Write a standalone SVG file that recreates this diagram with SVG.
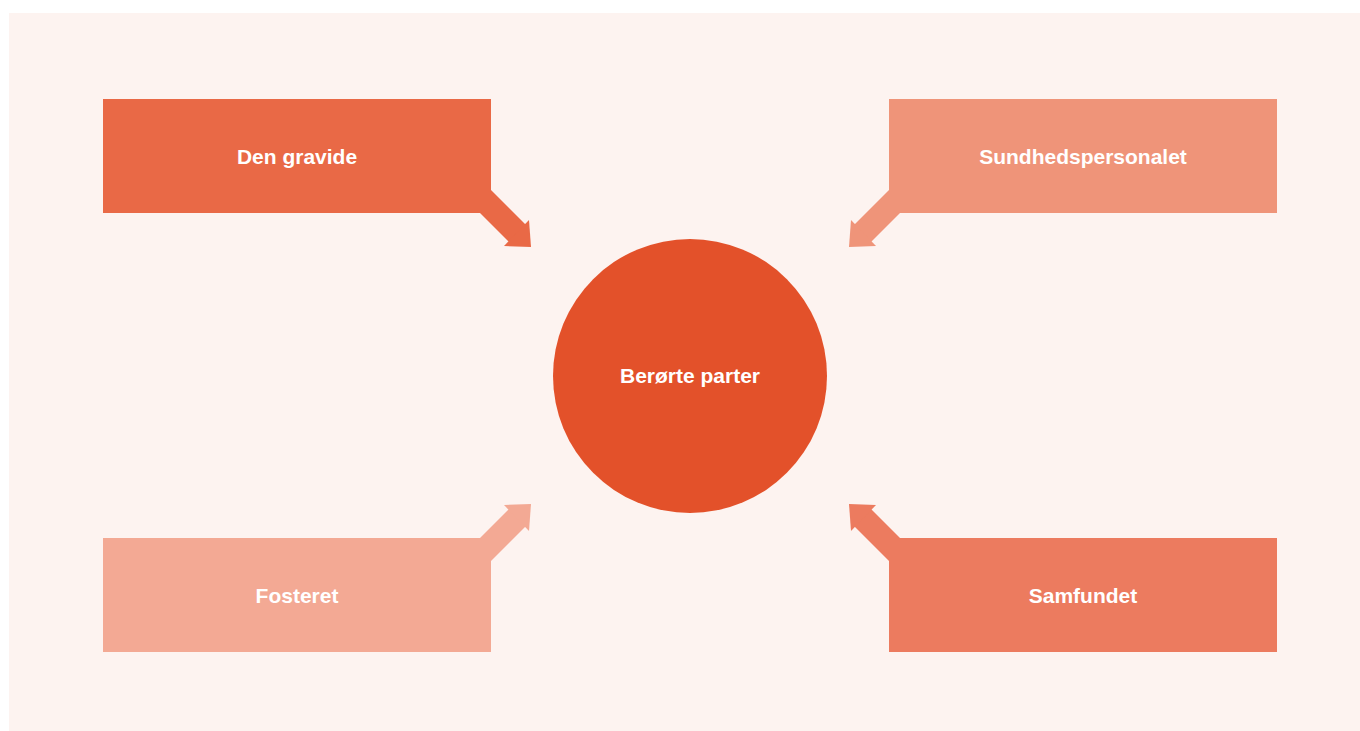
<svg xmlns="http://www.w3.org/2000/svg" width="1360" height="731" viewBox="0 0 1360 731">
<style>
text{font-family:"Liberation Sans",Arial,sans-serif;font-weight:bold;font-size:21px;fill:#fff;text-anchor:middle}
.shaft{stroke-width:24;fill:none}
</style>
<rect x="0" y="0" width="1360" height="731" fill="#fff"/>
<rect x="9" y="13" width="1351" height="718" fill="#FDF3F0"/>
<g id="connectors">
<line class="shaft" x1="470" y1="186" x2="519" y2="235" stroke="#E96946"/>
<polygon points="531,247 529,220 504,246" fill="#E96946"/>
<line class="shaft" x1="910" y1="186" x2="861" y2="235" stroke="#EF9479"/>
<polygon points="849,247 851,220 876,246" fill="#EF9479"/>
<line class="shaft" x1="470" y1="565" x2="519" y2="516" stroke="#F3A994"/>
<polygon points="531,504 529,531 504,505" fill="#F3A994"/>
<line class="shaft" x1="910" y1="565" x2="861" y2="516" stroke="#EC7B5F"/>
<polygon points="849,504 851,531 876,505" fill="#EC7B5F"/>
</g>
<g id="node-gravide">
<rect x="103" y="99" width="388" height="114" fill="#E96946"/>
<text x="297" y="164">Den gravide</text>
</g>
<g id="node-sundhed">
<rect x="889" y="99" width="388" height="114" fill="#EF9479"/>
<text x="1083" y="164">Sundhedspersonalet</text>
</g>
<g id="node-fosteret">
<rect x="103" y="538" width="388" height="114" fill="#F3A994"/>
<text x="297" y="603">Fosteret</text>
</g>
<g id="node-samfundet">
<rect x="889" y="538" width="388" height="114" fill="#EC7B5F"/>
<text x="1083" y="603">Samfundet</text>
</g>
<g id="node-center">
<circle cx="690" cy="376" r="137" fill="#E3512A"/>
<text x="690" y="383">Berørte parter</text>
</g>
</svg>
